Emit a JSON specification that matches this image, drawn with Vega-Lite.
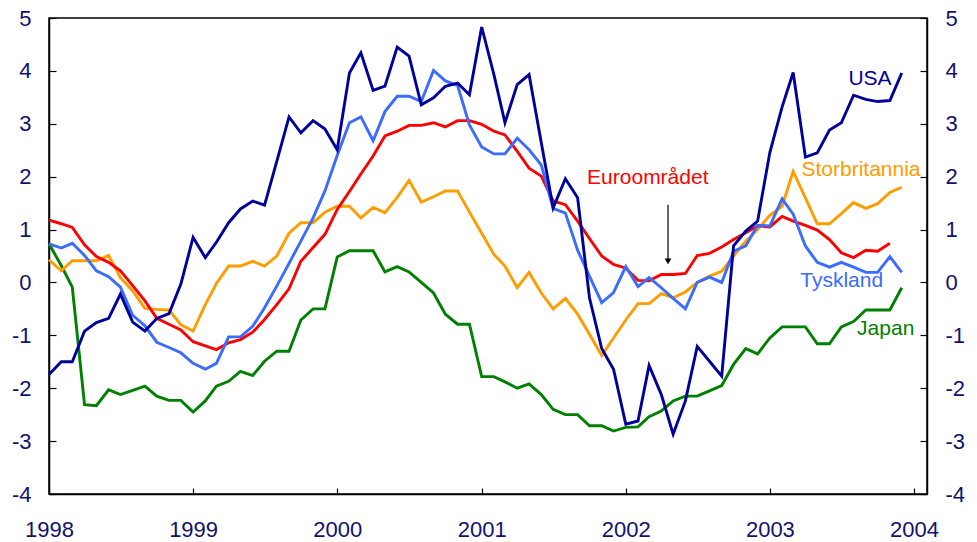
{
  "$schema": "https://vega.github.io/schema/vega-lite/v6.json",
  "width": 878,
  "height": 476,
  "autosize": {"type": "none"},
  "padding": {"left": 49, "top": 18, "right": 50, "bottom": 48},
  "background": "white",
  "config": {
    "font": "Liberation Sans",
    "view": {"stroke": "black", "strokeWidth": 1.5},
    "axis": {
      "labelFont": "Liberation Sans",
      "labelFontSize": 22,
      "labelColor": "#12126e",
      "domainColor": "black",
      "domainWidth": 1.5,
      "tickColor": "black",
      "tickWidth": 1.2,
      "tickSize": -7,
      "grid": false,
      "title": null,
      "labelFlush": false,
      "labelOverlap": false
    }
  },
  "datasets": {
    "series": [
      {"d": "1998-01-01", "USA": -1.74, "Euroområdet": 1.18, "Tyskland": 0.73, "Storbritannia": 0.43, "Japan": 0.73},
      {"d": "1998-02-01", "USA": -1.50, "Euroområdet": 1.11, "Tyskland": 0.65, "Storbritannia": 0.22, "Japan": 0.32},
      {"d": "1998-03-01", "USA": -1.50, "Euroområdet": 1.04, "Tyskland": 0.74, "Storbritannia": 0.41, "Japan": -0.09},
      {"d": "1998-04-01", "USA": -0.92, "Euroområdet": 0.71, "Tyskland": 0.51, "Storbritannia": 0.41, "Japan": -2.31},
      {"d": "1998-05-01", "USA": -0.76, "Euroområdet": 0.49, "Tyskland": 0.22, "Storbritannia": 0.41, "Japan": -2.33},
      {"d": "1998-06-01", "USA": -0.68, "Euroområdet": 0.38, "Tyskland": 0.11, "Storbritannia": 0.51, "Japan": -2.03},
      {"d": "1998-07-01", "USA": -0.22, "Euroområdet": 0.22, "Tyskland": -0.09, "Storbritannia": 0.09, "Japan": -2.12},
      {"d": "1998-08-01", "USA": -0.75, "Euroområdet": -0.06, "Tyskland": -0.62, "Storbritannia": -0.16, "Japan": -2.04},
      {"d": "1998-09-01", "USA": -0.92, "Euroområdet": -0.35, "Tyskland": -0.82, "Storbritannia": -0.49, "Japan": -1.96},
      {"d": "1998-10-01", "USA": -0.68, "Euroområdet": -0.68, "Tyskland": -1.13, "Storbritannia": -0.51, "Japan": -2.15},
      {"d": "1998-11-01", "USA": -0.59, "Euroområdet": -0.79, "Tyskland": -1.23, "Storbritannia": -0.52, "Japan": -2.23},
      {"d": "1998-12-01", "USA": -0.03, "Euroområdet": -0.90, "Tyskland": -1.33, "Storbritannia": -0.80, "Japan": -2.23},
      {"d": "1999-01-01", "USA": 0.85, "Euroområdet": -1.12, "Tyskland": -1.53, "Storbritannia": -0.92, "Japan": -2.45},
      {"d": "1999-02-01", "USA": 0.47, "Euroområdet": -1.20, "Tyskland": -1.64, "Storbritannia": -0.42, "Japan": -2.24},
      {"d": "1999-03-01", "USA": 0.76, "Euroområdet": -1.27, "Tyskland": -1.53, "Storbritannia": -0.02, "Japan": -1.96},
      {"d": "1999-04-01", "USA": 1.13, "Euroområdet": -1.14, "Tyskland": -1.03, "Storbritannia": 0.31, "Japan": -1.87},
      {"d": "1999-05-01", "USA": 1.39, "Euroområdet": -1.08, "Tyskland": -1.03, "Storbritannia": 0.31, "Japan": -1.68},
      {"d": "1999-06-01", "USA": 1.54, "Euroområdet": -0.94, "Tyskland": -0.83, "Storbritannia": 0.40, "Japan": -1.76},
      {"d": "1999-07-01", "USA": 1.46, "Euroområdet": -0.70, "Tyskland": -0.48, "Storbritannia": 0.31, "Japan": -1.49},
      {"d": "1999-08-01", "USA": 2.29, "Euroområdet": -0.42, "Tyskland": -0.07, "Storbritannia": 0.50, "Japan": -1.30},
      {"d": "1999-09-01", "USA": 3.13, "Euroområdet": -0.12, "Tyskland": 0.36, "Storbritannia": 0.93, "Japan": -1.30},
      {"d": "1999-10-01", "USA": 2.83, "Euroområdet": 0.40, "Tyskland": 0.78, "Storbritannia": 1.13, "Japan": -0.71},
      {"d": "1999-11-01", "USA": 3.06, "Euroområdet": 0.66, "Tyskland": 1.22, "Storbritannia": 1.13, "Japan": -0.50},
      {"d": "1999-12-01", "USA": 2.90, "Euroområdet": 0.91, "Tyskland": 1.73, "Storbritannia": 1.33, "Japan": -0.50},
      {"d": "2000-01-01", "USA": 2.51, "Euroområdet": 1.38, "Tyskland": 2.40, "Storbritannia": 1.44, "Japan": 0.48},
      {"d": "2000-02-01", "USA": 3.96, "Euroområdet": 1.72, "Tyskland": 3.02, "Storbritannia": 1.44, "Japan": 0.60},
      {"d": "2000-03-01", "USA": 4.34, "Euroområdet": 2.05, "Tyskland": 3.13, "Storbritannia": 1.22, "Japan": 0.60},
      {"d": "2000-04-01", "USA": 3.63, "Euroområdet": 2.39, "Tyskland": 2.68, "Storbritannia": 1.42, "Japan": 0.60},
      {"d": "2000-05-01", "USA": 3.71, "Euroområdet": 2.77, "Tyskland": 3.23, "Storbritannia": 1.32, "Japan": 0.20},
      {"d": "2000-06-01", "USA": 4.45, "Euroområdet": 2.86, "Tyskland": 3.52, "Storbritannia": 1.61, "Japan": 0.30},
      {"d": "2000-07-01", "USA": 4.28, "Euroområdet": 2.97, "Tyskland": 3.52, "Storbritannia": 1.93, "Japan": 0.20},
      {"d": "2000-08-01", "USA": 3.36, "Euroområdet": 2.97, "Tyskland": 3.42, "Storbritannia": 1.52, "Japan": 0.00},
      {"d": "2000-09-01", "USA": 3.49, "Euroområdet": 3.02, "Tyskland": 4.01, "Storbritannia": 1.62, "Japan": -0.20},
      {"d": "2000-10-01", "USA": 3.71, "Euroområdet": 2.94, "Tyskland": 3.81, "Storbritannia": 1.73, "Japan": -0.60},
      {"d": "2000-11-01", "USA": 3.77, "Euroområdet": 3.06, "Tyskland": 3.72, "Storbritannia": 1.73, "Japan": -0.79},
      {"d": "2000-12-01", "USA": 3.55, "Euroområdet": 3.06, "Tyskland": 2.98, "Storbritannia": 1.33, "Japan": -0.79},
      {"d": "2001-01-01", "USA": 4.83, "Euroområdet": 2.99, "Tyskland": 2.56, "Storbritannia": 0.93, "Japan": -1.78},
      {"d": "2001-02-01", "USA": 3.93, "Euroområdet": 2.86, "Tyskland": 2.43, "Storbritannia": 0.53, "Japan": -1.78},
      {"d": "2001-03-01", "USA": 3.02, "Euroområdet": 2.79, "Tyskland": 2.43, "Storbritannia": 0.31, "Japan": -1.88},
      {"d": "2001-04-01", "USA": 3.74, "Euroområdet": 2.48, "Tyskland": 2.73, "Storbritannia": -0.10, "Japan": -2.00},
      {"d": "2001-05-01", "USA": 3.93, "Euroområdet": 2.16, "Tyskland": 2.51, "Storbritannia": 0.19, "Japan": -1.92},
      {"d": "2001-06-01", "USA": 2.64, "Euroområdet": 2.01, "Tyskland": 2.22, "Storbritannia": -0.20, "Japan": -2.12},
      {"d": "2001-07-01", "USA": 1.41, "Euroområdet": 1.54, "Tyskland": 1.40, "Storbritannia": -0.50, "Japan": -2.40},
      {"d": "2001-08-01", "USA": 1.96, "Euroområdet": 1.47, "Tyskland": 1.31, "Storbritannia": -0.30, "Japan": -2.50},
      {"d": "2001-09-01", "USA": 1.60, "Euroområdet": 1.16, "Tyskland": 0.61, "Storbritannia": -0.60, "Japan": -2.50},
      {"d": "2001-10-01", "USA": -0.29, "Euroområdet": 0.83, "Tyskland": 0.12, "Storbritannia": -0.98, "Japan": -2.71},
      {"d": "2001-11-01", "USA": -1.25, "Euroområdet": 0.50, "Tyskland": -0.38, "Storbritannia": -1.38, "Japan": -2.71},
      {"d": "2001-12-01", "USA": -1.64, "Euroområdet": 0.34, "Tyskland": -0.19, "Storbritannia": -1.05, "Japan": -2.81},
      {"d": "2002-01-01", "USA": -2.68, "Euroområdet": 0.27, "Tyskland": 0.30, "Storbritannia": -0.71, "Japan": -2.74},
      {"d": "2002-02-01", "USA": -2.62, "Euroområdet": 0.04, "Tyskland": -0.08, "Storbritannia": -0.40, "Japan": -2.73},
      {"d": "2002-03-01", "USA": -1.57, "Euroområdet": 0.03, "Tyskland": 0.09, "Storbritannia": -0.40, "Japan": -2.54},
      {"d": "2002-04-01", "USA": -2.12, "Euroområdet": 0.15, "Tyskland": -0.10, "Storbritannia": -0.21, "Japan": -2.43},
      {"d": "2002-05-01", "USA": -2.87, "Euroområdet": 0.15, "Tyskland": -0.30, "Storbritannia": -0.29, "Japan": -2.24},
      {"d": "2002-06-01", "USA": -2.24, "Euroområdet": 0.17, "Tyskland": -0.50, "Storbritannia": -0.18, "Japan": -2.15},
      {"d": "2002-07-01", "USA": -1.21, "Euroområdet": 0.51, "Tyskland": 0.00, "Storbritannia": 0.00, "Japan": -2.15},
      {"d": "2002-08-01", "USA": -1.49, "Euroområdet": 0.55, "Tyskland": 0.10, "Storbritannia": 0.12, "Japan": -2.05},
      {"d": "2002-09-01", "USA": -1.77, "Euroområdet": 0.67, "Tyskland": 0.00, "Storbritannia": 0.21, "Japan": -1.95},
      {"d": "2002-10-01", "USA": 0.69, "Euroområdet": 0.81, "Tyskland": 0.59, "Storbritannia": 0.50, "Japan": -1.55},
      {"d": "2002-11-01", "USA": 0.97, "Euroområdet": 0.94, "Tyskland": 0.69, "Storbritannia": 0.78, "Japan": -1.25},
      {"d": "2002-12-01", "USA": 1.16, "Euroområdet": 1.07, "Tyskland": 1.08, "Storbritannia": 1.00, "Japan": -1.35},
      {"d": "2003-01-01", "USA": 2.46, "Euroområdet": 1.05, "Tyskland": 1.07, "Storbritannia": 1.27, "Japan": -1.05},
      {"d": "2003-02-01", "USA": 3.32, "Euroområdet": 1.25, "Tyskland": 1.58, "Storbritannia": 1.44, "Japan": -0.84},
      {"d": "2003-03-01", "USA": 3.97, "Euroområdet": 1.16, "Tyskland": 1.29, "Storbritannia": 2.10, "Japan": -0.84},
      {"d": "2003-04-01", "USA": 2.37, "Euroområdet": 1.08, "Tyskland": 0.69, "Storbritannia": 1.60, "Japan": -0.84},
      {"d": "2003-05-01", "USA": 2.45, "Euroområdet": 0.99, "Tyskland": 0.38, "Storbritannia": 1.11, "Japan": -1.16},
      {"d": "2003-06-01", "USA": 2.88, "Euroområdet": 0.81, "Tyskland": 0.29, "Storbritannia": 1.11, "Japan": -1.16},
      {"d": "2003-07-01", "USA": 3.02, "Euroområdet": 0.56, "Tyskland": 0.38, "Storbritannia": 1.30, "Japan": -0.84},
      {"d": "2003-08-01", "USA": 3.54, "Euroområdet": 0.47, "Tyskland": 0.29, "Storbritannia": 1.51, "Japan": -0.74},
      {"d": "2003-09-01", "USA": 3.46, "Euroområdet": 0.61, "Tyskland": 0.19, "Storbritannia": 1.40, "Japan": -0.52},
      {"d": "2003-10-01", "USA": 3.42, "Euroområdet": 0.59, "Tyskland": 0.19, "Storbritannia": 1.49, "Japan": -0.52},
      {"d": "2003-11-01", "USA": 3.44, "Euroområdet": 0.74, "Tyskland": 0.49, "Storbritannia": 1.70, "Japan": -0.52},
      {"d": "2003-12-01", "USA": 3.96, "Tyskland": 0.19, "Storbritannia": 1.80, "Japan": -0.10}
    ],
    "notes": [
      {"s": "USA", "d": "2003-07-19", "v": 3.84},
      {"s": "Storbritannia", "d": "2003-03-22", "v": 2.12},
      {"s": "Euroområdet", "d": "2001-09-25", "v": 1.97},
      {"s": "Tyskland", "d": "2003-03-19", "v": 0.02},
      {"s": "Japan", "d": "2003-08-10", "v": -0.88}
    ],
    "arrow": [
      {"d": "2002-04-18", "v": 1.47, "v2": 0.40}
    ]
  },
  "layer": [
    {
      "data": {"name": "series"},
      "transform": [
        {"fold": ["Japan", "Storbritannia", "Euroområdet", "Tyskland", "USA"], "as": ["s", "v"]},
        {"filter": "isValid(datum.v)"}
      ],
      "mark": {"type": "line", "strokeWidth": 2.9, "strokeJoin": "miter"},
      "encoding": {
        "x": {
          "field": "d", "type": "temporal",
          "scale": {"domain": ["1998-01-01", "2004-02-03"]},
          "axis": {"orient": "bottom", "format": "%Y", "tickCount": "year", "labelPadding": 31, "tickSize": -6}
        },
        "y": {
          "field": "v", "type": "quantitative",
          "scale": {"domain": [-4, 5], "nice": false},
          "axis": {"orient": "left", "values": [-4, -3, -2, -1, 0, 1, 2, 3, 4, 5], "labelPadding": 25, "labelExpr": "'' + datum.value"}
        },
        "color": {
          "field": "s", "type": "nominal",
          "scale": {"domain": ["USA", "Euroområdet", "Storbritannia", "Tyskland", "Japan"], "range": ["#00009a", "#ff0000", "#ff9c00", "#3a6cff", "#008000"]},
          "legend": null
        }
      }
    },
    {
      "data": {"name": "notes"},
      "mark": {"type": "text", "align": "left", "baseline": "middle", "fontSize": 21, "font": "Liberation Sans"},
      "encoding": {
        "x": {"field": "d", "type": "temporal"},
        "y": {
          "field": "v", "type": "quantitative",
          "axis": {"orient": "right", "values": [-4, -3, -2, -1, 0, 1, 2, 3, 4, 5], "labelPadding": 25, "labelExpr": "'' + datum.value"}
        },
        "text": {"field": "s"},
        "color": {"field": "s", "type": "nominal", "legend": null}
      }
    },
    {
      "data": {"name": "arrow"},
      "mark": {"type": "rule", "color": "black", "strokeWidth": 1.2},
      "encoding": {
        "x": {"field": "d", "type": "temporal"},
        "y": {"field": "v", "type": "quantitative", "axis": null},
        "y2": {"field": "v2"}
      }
    },
    {
      "data": {"name": "arrow"},
      "mark": {"type": "point", "shape": "triangle-down", "filled": true, "color": "black", "size": 45, "opacity": 1},
      "encoding": {
        "x": {"field": "d", "type": "temporal"},
        "y": {"field": "v2", "type": "quantitative", "axis": null}
      }
    }
  ],
  "resolve": {"axis": {"y": "independent"}}
}
